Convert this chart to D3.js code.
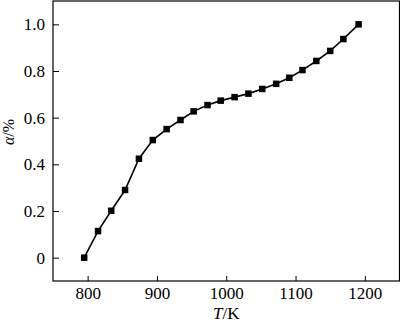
<!DOCTYPE html>
<html>
<head>
<meta charset="utf-8">
<script src="https://cdn.jsdelivr.net/npm/d3@7"></script>
<style>
  body { margin: 0; background: #fff; }
  text { font-family: "Liberation Serif", "Times New Roman", serif; fill: #000; }
</style>
</head>
<body>
<div id="viz"></div>
<script>
// values
const temps = [795, 815, 834, 854, 874, 894, 914, 934, 953, 973, 992, 1012, 1032, 1052, 1072, 1091, 1110, 1130, 1150, 1169, 1191];
const alpha = [0, 0.114, 0.201, 0.29, 0.424, 0.504, 0.551, 0.59, 0.627, 0.654, 0.673, 0.688, 0.703, 0.723, 0.745, 0.771, 0.804, 0.843, 0.886, 0.937, 1.0];
const xTicks = [800, 900, 1000, 1100, 1200];
const yTicks = [0, 0.2, 0.4, 0.6, 0.8, 1.0];

const W = 400, H = 322;
const margin = {top: 1, right: 0.5, bottom: 41, left: 53};
const width = W - margin.left - margin.right;
const height = H - margin.top - margin.bottom;

const data = temps.map((t, i) => ({t: t, a: alpha[i]}));

const svg = d3.select("#viz")
  .append("svg")
    .attr("width", W)
    .attr("height", H)
  .append("g")
    .attr("transform", `translate(${margin.left},${margin.top})`);

const x = d3.scaleLinear().domain([750, 1250]).range([0, width]);
const y = d3.scaleLinear().domain([-0.1, 1.1]).range([height, 0]);

svg.append("g")
  .attr("transform", `translate(0,${height})`)
  .call(d3.axisBottom(x).tickValues(xTicks).tickSizeInner(-5).tickSizeOuter(0).tickPadding(6)
    .tickFormat(d3.format("d")))
  .call(g => g.select(".domain").remove())
  .selectAll("text")
    .style("font-size", "17px");

svg.append("g")
  .call(d3.axisLeft(y).tickValues(yTicks).tickSizeInner(-6).tickSizeOuter(0).tickPadding(8)
    .tickFormat(d => d === 0 ? "0" : d.toFixed(1)))
  .call(g => g.select(".domain").remove())
  .selectAll("text")
    .style("font-size", "17px");

svg.append("rect")
  .attr("x", 0)
  .attr("y", 0)
  .attr("width", width)
  .attr("height", height)
  .attr("fill", "none")
  .attr("stroke", "#000")
  .attr("stroke-width", 1.2);

const line = d3.line()
  .x(d => x(d.t))
  .y(d => y(d.a));

svg.append("path")
  .datum(data)
  .attr("fill", "none")
  .attr("stroke", "#000")
  .attr("stroke-width", 1.6)
  .attr("d", line);

const s = 6.5;
svg.selectAll(".pt")
  .data(data)
  .join("rect")
    .attr("class", "pt")
    .attr("x", d => x(d.t) - s / 2)
    .attr("y", d => y(d.a) - s / 2)
    .attr("width", s)
    .attr("height", s)
    .attr("fill", "#000");

svg.append("text")
  .attr("x", width / 2)
  .attr("y", height + 38)
  .attr("text-anchor", "middle")
  .style("font-size", "17px")
  .html('<tspan font-style="italic">T</tspan>/K');

svg.append("text")
  .attr("transform", "rotate(-90)")
  .attr("x", -131)
  .attr("y", -39)
  .attr("text-anchor", "middle")
  .style("font-size", "16px")
  .html('<tspan font-style="italic">α</tspan>/%');
</script>
</body>
</html>
